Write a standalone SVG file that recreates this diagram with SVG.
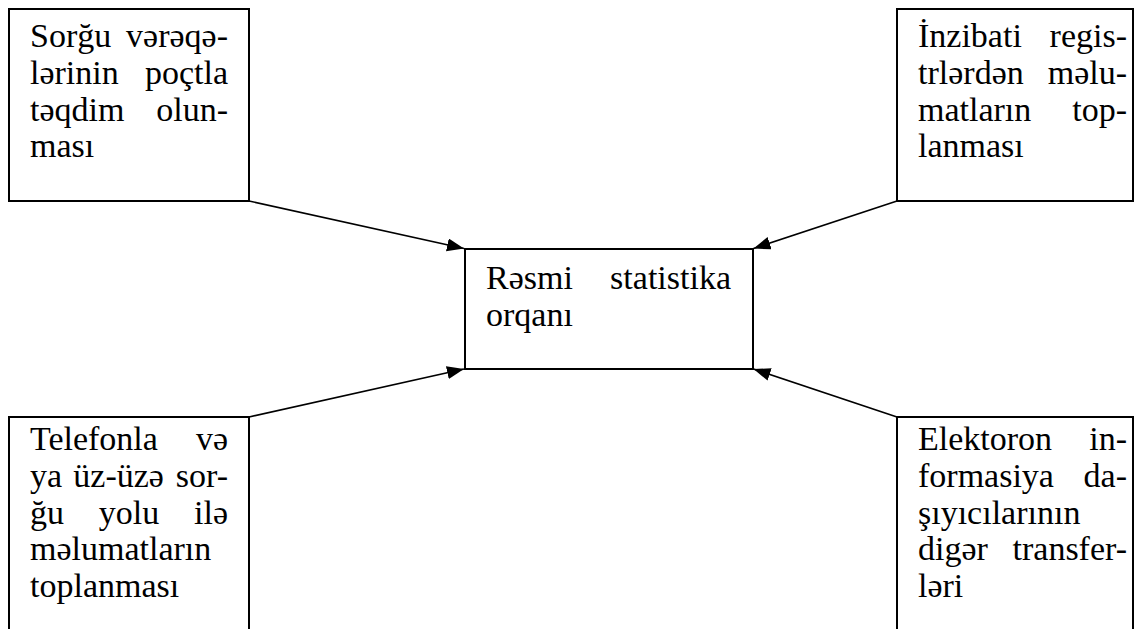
<svg xmlns="http://www.w3.org/2000/svg" width="1136" height="629" viewBox="0 0 1136 629">
<style>
.box{fill:#fff;stroke:#000;stroke-width:2}
.t{font-size:34px;fill:#000}
.e{text-anchor:end}
.c{stroke:#000;stroke-width:1.6;fill:none;marker-end:url(#ah)}
</style>
<defs>
<marker id="ah" markerUnits="userSpaceOnUse" markerWidth="18" markerHeight="14" refX="17" refY="6.5" orient="auto">
<path d="M0,0 L17,6.5 L0,13 z" fill="#000"/>
</marker>
</defs>
<rect width="1136" height="629" fill="#fff"/>
<g id="connectors">
<line class="c" x1="249" y1="201" x2="464" y2="248.5"/>
<line class="c" x1="897" y1="201" x2="753.5" y2="248.5"/>
<line class="c" x1="249" y1="417" x2="464" y2="369"/>
<line class="c" x1="897" y1="417" x2="753.5" y2="369"/>
</g>
<g id="node-center" font-family="Liberation Serif, serif">
<rect class="box" x="465" y="249" width="288" height="120"/>
<text class="t" x="486" y="289">Rəsmi</text>
<text class="t e" x="731" y="289">statistika</text>
<text class="t" x="486" y="326">orqanı</text>
</g>
<g id="node-top-left" font-family="Liberation Serif, serif">
<rect class="box" x="9" y="9" width="240" height="192"/>
<text class="t" x="30" y="47">Sorğu</text>
<text class="t e" x="228" y="47">vərəqə-</text>
<text class="t" x="30" y="84">lərinin</text>
<text class="t e" x="228" y="84">poçtla</text>
<text class="t" x="30" y="121">təqdim</text>
<text class="t e" x="228" y="121">olun-</text>
<text class="t" x="30" y="157">ması</text>
</g>
<g id="node-top-right" font-family="Liberation Serif, serif">
<rect class="box" x="897" y="9" width="236" height="192"/>
<text class="t" x="918" y="47">İnzibati</text>
<text class="t e" x="1127" y="47">regis-</text>
<text class="t" x="918" y="84">trlərdən</text>
<text class="t e" x="1127" y="84">məlu-</text>
<text class="t" x="918" y="121">matların</text>
<text class="t e" x="1127" y="121">top-</text>
<text class="t" x="918" y="157">lanması</text>
</g>
<g id="node-bottom-left" font-family="Liberation Serif, serif">
<rect class="box" x="9" y="417" width="240" height="260"/>
<text class="t" x="30" y="450">Telefonla</text>
<text class="t e" x="228" y="450">və</text>
<text class="t" x="30" y="487">ya</text>
<text class="t" x="73.3" y="487">üz-üzə</text>
<text class="t e" x="228" y="487">sor-</text>
<text class="t" x="30" y="524">ğu</text>
<text class="t" x="98.8" y="524">yolu</text>
<text class="t e" x="228" y="524">ilə</text>
<text class="t" x="30" y="560">məlumatların</text>
<text class="t" x="30" y="597">toplanması</text>
</g>
<g id="node-bottom-right" font-family="Liberation Serif, serif">
<rect class="box" x="897" y="417" width="236" height="260"/>
<text class="t" x="918" y="450">Elektoron</text>
<text class="t e" x="1127" y="450">in-</text>
<text class="t" x="918" y="487">formasiya</text>
<text class="t e" x="1127" y="487">da-</text>
<text class="t" x="918" y="524">şıyıcılarının</text>
<text class="t" x="918" y="560">digər</text>
<text class="t e" x="1127" y="560">transfer-</text>
<text class="t" x="918" y="597">ləri</text>
</g>
</svg>
